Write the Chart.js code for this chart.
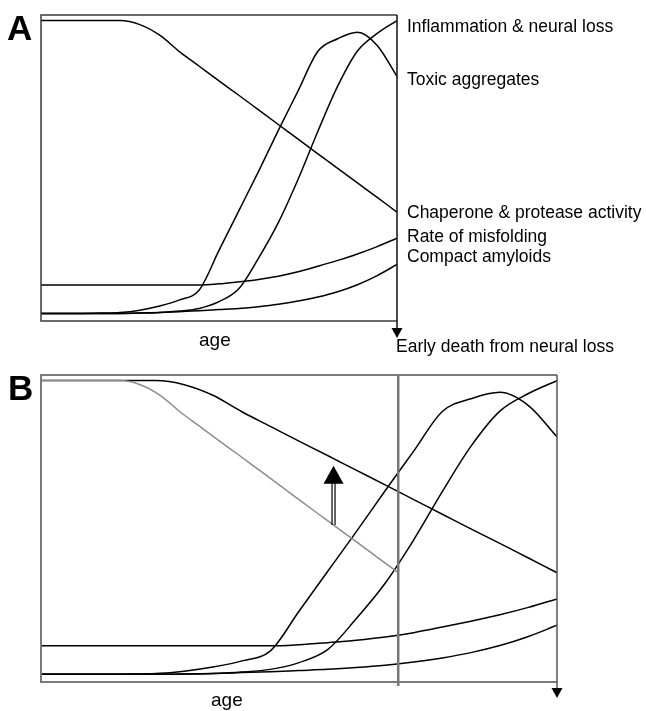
<!DOCTYPE html>
<html>
<head>
<meta charset="utf-8">
<script src="https://cdn.jsdelivr.net/npm/chart.js@4.4.1/dist/chart.umd.min.js"></script>
<style>
  body { margin: 0; background: #fff; }
  #wrap { position: relative; width: 646px; height: 711px; font-family: "Liberation Sans", Arial, sans-serif; color: #000; }
  canvas { position: absolute; left: 0; }
  .lbl { position: absolute; font-size: 17.5px; line-height: 17.5px; white-space: nowrap; }
  .age { position: absolute; font-size: 19px; line-height: 19px; }
  .panel { position: absolute; font-size: 35px; line-height: 35px; font-weight: bold; }
</style>
</head>
<body>
<div id="wrap">
  <canvas id="chartA" width="646" height="360" style="top:0"></canvas>
  <canvas id="chartB" width="646" height="351" style="top:360px"></canvas>
  <div class="panel" style="left:7px;top:10px">A</div>
  <div class="panel" style="left:8px;top:370px">B</div>
  <div class="lbl" style="left:407px;top:18px">Inflammation &amp; neural loss</div>
  <div class="lbl" style="left:407px;top:71px">Toxic aggregates</div>
  <div class="lbl" style="left:407px;top:204px">Chaperone &amp; protease activity</div>
  <div class="lbl" style="left:407px;top:228px">Rate of misfolding</div>
  <div class="lbl" style="left:407px;top:248px">Compact amyloids</div>
  <div class="lbl" style="left:396px;top:338px">Early death from neural loss</div>
  <div class="age" style="left:199px;top:330px">age</div>
  <div class="age" style="left:211px;top:690px">age</div>
</div>
<script>
// age steps (panel A, and the old chaperone curve in panel B)
var ages = [0, 0.5, 1, 1.5, 2, 2.5, 3, 3.5, 4, 4.5, 5, 5.5, 6, 6.5, 7, 7.5, 8, 8.5, 9];
// same curves spread over the longer life span in panel B
var bAges = [0, 0.72, 1.44, 2.17, 2.89, 3.61, 4.33, 5.06, 5.78, 6.5, 7.22, 7.94, 8.67, 9.39, 10.11, 10.83, 11.56, 12.28, 13];

var chaperone = [100, 100, 100, 100, 100, 98.6, 95, 89.4, 84.4, 79.4, 74.5, 69.5, 64.5, 59.5, 54.5, 49.5, 44.6, 39.6, 34.6];
var toxic = [0, 0, 0, 0.1, 0.3, 1.1, 2.5, 4.6, 8, 21.5, 35, 48.5, 62.5, 76, 89.5, 93.8, 96, 91.5, 80.9];
var inflammation = [0, 0, 0, 0, 0, 0.1, 0.3, 0.8, 1.7, 4, 8.4, 18.9, 31, 45.8, 62.2, 77.6, 89.6, 95.6, 100];
var misfolding = [9.7, 9.7, 9.7, 9.7, 9.7, 9.7, 9.7, 9.7, 9.7, 10.1, 10.8, 11.6, 12.7, 14.2, 16.1, 18.1, 20.3, 22.8, 25.7];
var compact = [0, 0, 0, 0, 0, 0.1, 0.3, 0.6, 0.9, 1.3, 1.7, 2.3, 3.1, 4.2, 5.6, 7.4, 9.8, 12.9, 16.7];

var deathAgeA = 9;
var deathAgeB = 13;
var arrowAge = 7.37, arrowFrom = 50.8, arrowTo = 71;

function pts(xs, ys) {
    return xs.map(function (x, i) { return { x: x, y: ys[i] }; });
}

function line(xs, ys, color) {
    return {
        data: pts(xs, ys),
        borderColor: color,
        borderWidth: 1.5,
        pointRadius: 0,
        cubicInterpolationMode: 'monotone',
        fill: false
    };
}

function opts(maxAge, padRight, padBottom) {
    return {
        responsive: false,
        animation: false,
        devicePixelRatio: 1,
        events: [],
        layout: { padding: { left: 41, top: 15, right: padRight, bottom: padBottom } },
        plugins: { legend: { display: false }, tooltip: { enabled: false } },
        scales: {
            x: { type: 'linear', min: 0, max: maxAge, display: false },
            y: { type: 'linear', min: -2.6, max: 101.9, display: false }
        }
    };
}

function downArrow(c, x, y) {
    c.fillStyle = '#000';
    c.beginPath();
    c.moveTo(x - 5.5, y);
    c.lineTo(x + 5.5, y);
    c.lineTo(x, y + 10);
    c.closePath();
    c.fill();
}

var frameA = {
    id: 'frameA',
    afterDatasetsDraw: function (chart) {
        var a = chart.chartArea, c = chart.ctx;
        c.save();
        c.lineWidth = 1.5;
        c.strokeStyle = '#3a3a3a';
        c.beginPath();
        c.moveTo(a.right, a.top);
        c.lineTo(a.left, a.top);
        c.lineTo(a.left, a.bottom);
        c.lineTo(a.right, a.bottom);
        c.stroke();
        c.strokeStyle = '#111';
        c.beginPath();
        c.moveTo(a.right, a.top);
        c.lineTo(a.right, a.bottom + 8);
        c.stroke();
        downArrow(c, a.right, a.bottom + 7);
        c.restore();
    }
};

var frameB = {
    id: 'frameB',
    afterDatasetsDraw: function (chart) {
        var a = chart.chartArea, c = chart.ctx, xs = chart.scales.x, ys = chart.scales.y;
        c.save();
        c.lineWidth = 2;
        c.strokeStyle = '#7a7a7a';
        c.beginPath();
        c.moveTo(a.right, a.top);
        c.lineTo(a.left, a.top);
        c.lineTo(a.left, a.bottom);
        c.lineTo(a.right, a.bottom);
        c.stroke();
        c.lineWidth = 1.5;
        c.strokeStyle = '#555';
        c.beginPath();
        c.moveTo(a.right, a.top);
        c.lineTo(a.right, a.bottom + 7);
        c.stroke();
        downArrow(c, a.right, a.bottom + 6);
        // old death age
        var vx = xs.getPixelForValue(deathAgeA);
        c.lineWidth = 2.5;
        c.strokeStyle = '#777';
        c.beginPath();
        c.moveTo(vx, a.top);
        c.lineTo(vx, a.bottom + 4);
        c.stroke();
        // hollow up arrow
        var ax = xs.getPixelForValue(arrowAge);
        var y0 = ys.getPixelForValue(arrowFrom), y1 = ys.getPixelForValue(arrowTo);
        c.lineWidth = 1.2;
        c.strokeStyle = '#000';
        c.beginPath();
        c.moveTo(ax - 1.5, y0);
        c.lineTo(ax - 1.5, y1 + 17);
        c.moveTo(ax + 1.5, y0);
        c.lineTo(ax + 1.5, y1 + 17);
        c.stroke();
        c.fillStyle = '#000';
        c.beginPath();
        c.moveTo(ax - 10, y1 + 18);
        c.lineTo(ax + 10, y1 + 18);
        c.lineTo(ax, y1);
        c.closePath();
        c.fill();
        c.restore();
    }
};

new Chart(document.getElementById('chartA'), {
    type: 'line',
    data: {
        datasets: [
            line(ages, chaperone, '#000'),
            line(ages, toxic, '#000'),
            line(ages, inflammation, '#000'),
            line(ages, misfolding, '#000'),
            line(ages, compact, '#000')
        ]
    },
    options: opts(deathAgeA, 249, 39),
    plugins: [frameA]
});

new Chart(document.getElementById('chartB'), {
    type: 'line',
    data: {
        datasets: [
            line(ages, chaperone, '#8c8c8c'),
            line(bAges, chaperone, '#000'),
            line(bAges, toxic, '#000'),
            line(bAges, inflammation, '#000'),
            line(bAges, misfolding, '#000'),
            line(bAges, compact, '#000')
        ]
    },
    options: opts(deathAgeB, 89, 29),
    plugins: [frameB]
});
</script>
</body>
</html>
